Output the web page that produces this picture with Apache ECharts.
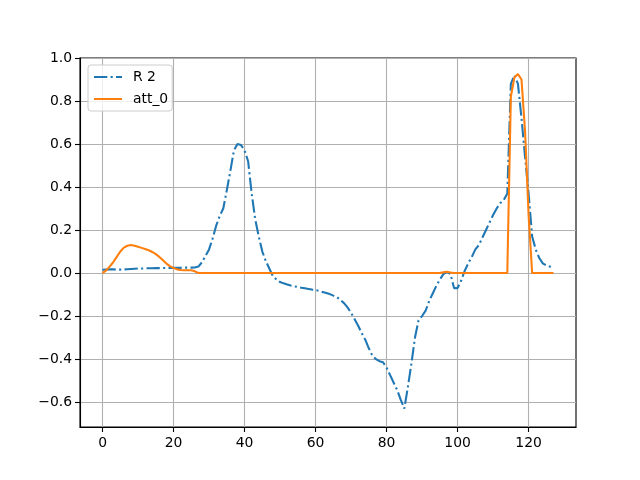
<!DOCTYPE html>
<html>
<head>
<meta charset="utf-8">
<script src="https://cdn.jsdelivr.net/npm/echarts@6/dist/echarts.min.js"></script>
<style>
  html, body { margin: 0; padding: 0; background: #fff; }
  #chart { width: 640px; height: 480px; }
</style>
</head>
<body>
<div id="chart"></div>
<script>
  // values, one per sample index 0..127
  const r2 = [
    0.015, 0.016, 0.017, 0.017, 0.016, 0.016, 0.017, 0.018, 0.019, 0.020,
    0.021, 0.021, 0.022, 0.022, 0.022, 0.023, 0.023, 0.023, 0.024, 0.024,
    0.024, 0.024, 0.024, 0.025, 0.025, 0.025, 0.026, 0.030, 0.050, 0.080,
    0.110, 0.160, 0.220, 0.265, 0.300, 0.385, 0.475, 0.570, 0.600, 0.595,
    0.570, 0.520, 0.370, 0.250, 0.170, 0.100, 0.055, 0.020, -0.015, -0.030,
    -0.042, -0.048, -0.053, -0.058, -0.062, -0.065, -0.068, -0.071, -0.074, -0.077,
    -0.079, -0.083, -0.088, -0.093, -0.098, -0.105, -0.112, -0.125, -0.140, -0.160,
    -0.185, -0.215, -0.245, -0.280, -0.310, -0.350, -0.385, -0.400, -0.410, -0.415,
    -0.440, -0.475, -0.510, -0.545, -0.590, -0.630, -0.530, -0.420, -0.300, -0.220,
    -0.200, -0.175, -0.130, -0.095, -0.060, -0.030, -0.005, 0.005, -0.005, -0.070,
    -0.070, -0.035, 0.010, 0.045, 0.075, 0.110, 0.130, 0.165, 0.200, 0.235,
    0.270, 0.300, 0.325, 0.340, 0.370, 0.880, 0.920, 0.880, 0.720, 0.540,
    0.370, 0.170, 0.110, 0.070, 0.045, 0.035, 0.030, 0.020
  ];
  const att0 = [
    0.000, 0.012, 0.030, 0.050, 0.075, 0.100, 0.118, 0.127, 0.130, 0.127,
    0.122, 0.117, 0.112, 0.106, 0.098, 0.088, 0.075, 0.060, 0.044, 0.032,
    0.023, 0.017, 0.014, 0.013, 0.013, 0.013, 0.008, 0.000, 0.000, 0.000,
    0.000, 0.000, 0.000, 0.000, 0.000, 0.000, 0.000, 0.000, 0.000, 0.000,
    0.000, 0.000, 0.000, 0.000, 0.000, 0.000, 0.000, 0.000, 0.000, 0.000,
    0.000, 0.000, 0.000, 0.000, 0.000, 0.000, 0.000, 0.000, 0.000, 0.000,
    0.000, 0.000, 0.000, 0.000, 0.000, 0.000, 0.000, 0.000, 0.000, 0.000,
    0.000, 0.000, 0.000, 0.000, 0.000, 0.000, 0.000, 0.000, 0.000, 0.000,
    0.000, 0.000, 0.000, 0.000, 0.000, 0.000, 0.000, 0.000, 0.000, 0.000,
    0.000, 0.000, 0.000, 0.000, 0.000, 0.000, 0.003, 0.006, 0.002, 0.000,
    0.000, 0.000, 0.000, 0.000, 0.000, 0.000, 0.000, 0.000, 0.000, 0.000,
    0.000, 0.000, 0.000, 0.000, 0.000, 0.820, 0.910, 0.925, 0.900, 0.660,
    0.270, 0.000, 0.000, 0.000, 0.000, 0.000, 0.000, 0.000
  ];
  const seriesNames = ['R 2', 'att_0'];
  const xTicks = [0, 20, 40, 60, 80, 100, 120];
  const yTicks = [-0.6, -0.4, -0.2, 0.0, 0.2, 0.4, 0.6, 0.8, 1.0];

  const font = 'DejaVu Sans';
  const lw = 2.08; // 1.5pt at 100 dpi
  let chart = echarts.init(document.getElementById('chart'));

  function axisCommon(ticks) {
    return {
      axisLine: { show: true, onZero: false, lineStyle: { color: '#000', width: 1.1 } },
      axisTick: { show: true, inside: false, length: 5, customValues: ticks, lineStyle: { color: '#000', width: 1.1 } },
      splitLine: { show: true, lineStyle: { color: '#b0b0b0', width: 1.1 } },
      axisLabel: { color: '#000', fontFamily: font, fontSize: 13.9, customValues: ticks }
    };
  }

  let xAxis = axisCommon(xTicks);
  xAxis.type = 'value';
  xAxis.min = -6.35;
  xAxis.max = 133.35;
  xAxis.splitNumber = 7;
  xAxis.axisLabel.margin = 9;
  xAxis.axisLabel.formatter = function (v) {
    return String(Math.round(v));
  };

  let yAxis = axisCommon(yTicks);
  yAxis.type = 'value';
  yAxis.min = -0.716;
  yAxis.max = 1.0;
  yAxis.splitNumber = 8;
  yAxis.axisLabel.margin = 8;
  yAxis.axisLabel.formatter = function (v) {
    let s = Math.abs(v).toFixed(1);
    return v < -1e-9 ? '\u2212' + s : s;
  };

  let option = {
    animation: false,
    backgroundColor: '#fff',
    textStyle: { fontFamily: font },
    grid: {
      left: 80, right: 64, top: 58, bottom: 53,
      show: true, borderColor: '#000', borderWidth: 1.1
    },
    legend: {
      orient: 'vertical',
      left: 88, top: 65,
      padding: [5, 4, 5, 5],
      itemGap: 8,
      itemWidth: 28,
      itemHeight: 14,
      itemStyle: { opacity: 0 },
      backgroundColor: 'rgba(255,255,255,0.8)',
      borderColor: '#cccccc',
      borderWidth: 1,
      borderRadius: 3,
      textStyle: { color: '#000', fontFamily: font, fontSize: 13.9, padding: [0, 0, 0, 6] },
      data: seriesNames
    },
    xAxis: xAxis,
    yAxis: yAxis,
    series: [
      {
        name: seriesNames[0],
        type: 'line',
        showSymbol: false,
        symbol: 'none',
        data: r2.map((v, i) => [i, v]),
        lineStyle: { color: '#1f77b4', width: lw, type: [13.3, 3.3, 2.1, 3.3] },
        itemStyle: { color: '#1f77b4' }
      },
      {
        name: seriesNames[1],
        type: 'line',
        showSymbol: false,
        symbol: 'none',
        data: att0.map((v, i) => [i, v]),
        lineStyle: { color: '#ff7f0e', width: lw },
        itemStyle: { color: '#ff7f0e' }
      }
    ]
  };
  chart.setOption(option);
</script>
</body>
</html>
